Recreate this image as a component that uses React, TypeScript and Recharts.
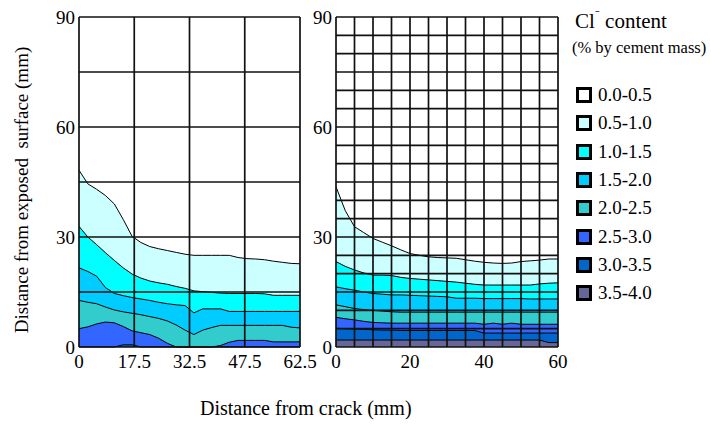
import React from 'react';
import { ComposedChart, Area, XAxis, YAxis, ReferenceLine } from 'recharts';

// chloride band colours, lowest to highest
const bandLabels = ['0.0-0.5', '0.5-1.0', '1.0-1.5', '1.5-2.0', '2.0-2.5', '2.5-3.0', '3.0-3.5', '3.5-4.0'];
const bandColors = ['#ffffff', '#ccffff', '#00ffff', '#00ccff', '#33cccc', '#3366ff', '#0066cc', '#666699'];

// left panel (cracked specimen): depth of each iso-line (mm)
const leftX = [0, 2.5, 5, 7.5, 10, 12.5, 15, 17.5, 20, 22.5, 25, 27.5, 30, 32.5, 35, 37.5, 40, 42.5, 45, 47.5, 50, 52.5, 55, 57.5, 60, 62.5];
const leftB05 = [48.2, 44.5, 43, 41.3, 39, 34.8, 30.2, 28.5, 27.4, 26.8, 26.3, 25.8, 25.3, 25, 25, 25, 25, 25, 24.4, 24.1, 24, 23.8, 23.4, 23.1, 22.8, 22.7];
const leftB10 = [32.9, 30, 27.9, 25.7, 23.6, 21.6, 19.9, 18.8, 18, 17.5, 17.1, 16.5, 16, 15.3, 15.1, 14.9, 14.7, 14.6, 14.6, 14.6, 14.6, 14.5, 14.1, 14.1, 14.1, 14.1];
const leftB15 = [21.6, 20.6, 19.3, 16.2, 14.6, 14, 13.5, 13.1, 12.7, 12.2, 11.8, 11.5, 11.3, 9.3, 10.4, 10.4, 10.4, 9.7, 9.7, 9.7, 9.7, 9.7, 9.7, 9.7, 9.7, 9.7];
const leftB20 = [12.7, 12.2, 11.8, 10.9, 10.1, 9.6, 9.2, 8.8, 8.3, 7.8, 7.1, 6, 4.6, 3.4, 4.6, 5.3, 5.9, 5.9, 5.9, 5.9, 5.9, 5.9, 5.9, 5.9, 5.4, 5.2];
const leftB25 = [5, 5.5, 6.3, 6.8, 6.6, 5.6, 4.4, 3.9, 3.4, 2.4, 1, 0, 0, 0, 0, 0, 0.4, 1.3, 1.8, 1.8, 1.8, 1.8, 1.4, 1.4, 1.4, 1.4];
const leftB30 = [0, 0, 0, 0, 0, 0.6, 0.6, 0, 0, 0, 0, 0, 0, 0, 0, 0, 0, 0, 0, 0, 0, 0, 0, 0, 0, 0];
const leftTicks = ['0', '17.5', '32.5', '47.5', '62.5'];

// right panel (uncracked specimen)
const rightX = [0, 2.5, 5, 7.5, 10, 12.5, 15, 17.5, 20, 22.5, 25, 27.5, 30, 32.5, 35, 37.5, 40, 42.5, 45, 47.5, 50, 52.5, 55, 57.5, 60];
const rightB05 = [43.7, 37.2, 32.8, 31.2, 29.6, 28.6, 27.6, 26.5, 25.5, 25, 24.6, 24.4, 24.3, 24.2, 23.8, 23.4, 23.1, 22.9, 22.8, 22.9, 23.3, 23.5, 23.7, 24, 24];
const rightB10 = [23.3, 22, 21, 20.2, 19.6, 19.6, 19.5, 19, 18.7, 18.5, 18.3, 18.1, 17.9, 17.7, 17.4, 17.1, 16.9, 16.9, 16.9, 16.9, 16.9, 16.9, 17.2, 17.4, 17.5];
const rightB15 = [16.4, 15.9, 15.5, 15, 14.6, 14.4, 14.2, 14.2, 14.1, 14, 13.9, 13.8, 13.7, 13.3, 13.3, 13.3, 13.2, 13.2, 13.2, 13.2, 13.2, 13.1, 13.1, 13.1, 13.1];
const rightB20 = [11.5, 11, 10.5, 10.2, 10, 9.8, 9.6, 9.5, 9.5, 9.5, 9.5, 9.5, 9.5, 9.5, 9.5, 9.5, 9.5, 9.5, 9.5, 9.5, 9.5, 9.5, 9.5, 9.5, 9.5];
const rightB25 = [8.1, 7.7, 7.4, 7, 6.7, 6.6, 6.5, 6.5, 6.5, 6.5, 6.5, 6.5, 6.5, 6.5, 6.5, 6.5, 6.2, 6.5, 6.2, 6.5, 6.2, 6.2, 6.2, 6.2, 6.2];
const rightB30 = [5.1, 5, 4.9, 4.8, 4.7, 4.6, 4.6, 4.5, 4.5, 4.5, 4.5, 4.5, 4.5, 4.5, 4.5, 4.5, 3.8, 3.8, 3.8, 3.8, 3.8, 3.8, 3.8, 3.8, 3.8];
const rightB35 = [1.9, 1.9, 1.9, 1.9, 1.9, 1.9, 1.9, 1.9, 1.9, 1.9, 1.9, 1.9, 1.9, 1.9, 1.9, 1.9, 1.9, 1.9, 1.9, 1.9, 1.9, 1.9, 1.9, 1.2, 1.2];
const rightTicks = [0, 20, 40, 60];
const yTicks = [0, 30, 60, 90];

const leftData = leftX.map((x, i) => ({
  x, b05: leftB05[i], b10: leftB10[i], b15: leftB15[i], b20: leftB20[i], b25: leftB25[i], b30: leftB30[i],
}));
const rightData = rightX.map((x, i) => ({
  x, b05: rightB05[i], b10: rightB10[i], b15: rightB15[i], b20: rightB20[i], b25: rightB25[i], b30: rightB30[i], b35: rightB35[i],
}));

const font = '"Liberation Serif", "Times New Roman", serif';
const tickStyle = { fill: '#000', fontSize: 19, fontFamily: font };

const range = (from: number, to: number, step: number) => {
  const out: number[] = [];
  for (let v = from; v <= to + 1e-9; v += step) out.push(v);
  return out;
};

const bands = (keys: string[]) =>
  keys.map((k, i) => (
    <Area
      key={k}
      dataKey={k}
      type="linear"
      fill={bandColors[i + 1]}
      fillOpacity={1}
      stroke="#000"
      strokeWidth={1}
      dot={false}
      activeDot={false}
      isAnimationActive={false}
    />
  ));

const gridLines = (xs: number[], ys: number[]) => [
  ...xs.map(v => <ReferenceLine key={'x' + v} x={v} stroke="#111" strokeWidth={1.7} ifOverflow="visible" />),
  ...ys.map(v => <ReferenceLine key={'y' + v} y={v} stroke="#111" strokeWidth={1.7} ifOverflow="visible" />),
];

export default function App() {
  const leftXs = [0, 15.625, 31.25, 46.875, 62.5];
  return (
    <div style={{ position: 'absolute', left: 0, top: 0, width: 711, height: 435, background: '#fff', fontFamily: font }}>
      <div style={{ position: 'absolute', left: 0, top: 0 }}>
        <ComposedChart width={330} height={380} data={leftData} margin={{ top: 17, right: 30, bottom: 0, left: 0 }}>
          <XAxis
            dataKey="x"
            type="number"
            domain={[0, 62.5]}
            ticks={leftXs}
            tickFormatter={(v: number) => leftTicks[leftXs.indexOf(v)]}
            axisLine={false}
            tickLine={false}
            tickSize={0}
            tickMargin={8}
            height={33}
            tick={tickStyle}
            interval={0}
          />
          <YAxis
            type="number"
            domain={[0, 90]}
            ticks={yTicks}
            axisLine={false}
            tickLine={false}
            tickSize={0}
            tickMargin={4}
            width={79}
            tick={tickStyle}
            interval={0}
          />
          {bands(['b05', 'b10', 'b15', 'b20', 'b25', 'b30'])}
          {gridLines(leftXs, range(0, 90, 15))}
        </ComposedChart>
      </div>

      <div style={{ position: 'absolute', left: 300, top: 0 }}>
        <ComposedChart width={270} height={380} data={rightData} margin={{ top: 17, right: 12, bottom: 0, left: 0 }}>
          <XAxis
            dataKey="x"
            type="number"
            domain={[0, 60]}
            ticks={rightTicks}
            axisLine={false}
            tickLine={false}
            tickSize={0}
            tickMargin={8}
            height={33}
            tick={tickStyle}
            interval={0}
          />
          <YAxis
            type="number"
            domain={[0, 90]}
            ticks={yTicks}
            axisLine={false}
            tickLine={false}
            tickSize={0}
            tickMargin={4}
            width={36}
            tick={tickStyle}
            interval={0}
          />
          {bands(['b05', 'b10', 'b15', 'b20', 'b25', 'b30', 'b35'])}
          {gridLines(range(0, 60, 5), range(0, 90, 5))}
        </ComposedChart>
      </div>

      {/* axis titles */}
      <div
        style={{
          position: 'absolute', left: 22, top: 190, fontSize: 19, whiteSpace: 'pre',
          transform: 'translate(-50%, -50%) rotate(-90deg)',
        }}
      >
        Distance from exposed  surface (mm)
      </div>
      <div style={{ position: 'absolute', left: 200, top: 397, fontSize: 20, whiteSpace: 'nowrap' }}>
        Distance from crack (mm)
      </div>

      {/* legend */}
      <div style={{ position: 'absolute', left: 575, top: 9, fontSize: 21, whiteSpace: 'nowrap' }}>
        Cl<sup style={{ fontSize: 14, verticalAlign: 'top', lineHeight: 1 }}>⁻</sup> content
      </div>
      <div style={{ position: 'absolute', left: 572, top: 38, fontSize: 16.5, whiteSpace: 'nowrap' }}>
        (% by cement mass)
      </div>
      {bandLabels.map((lab, i) => (
        <div key={lab} style={{ position: 'absolute', left: 576, top: 84 + i * 28.3, display: 'flex', alignItems: 'center', whiteSpace: 'nowrap' }}>
          <div style={{ width: 10, height: 10, border: '3px solid #000', background: bandColors[i] }} />
          <span style={{ fontSize: 19, marginLeft: 6 }}>{lab}</span>
        </div>
      ))}
    </div>
  );
}
